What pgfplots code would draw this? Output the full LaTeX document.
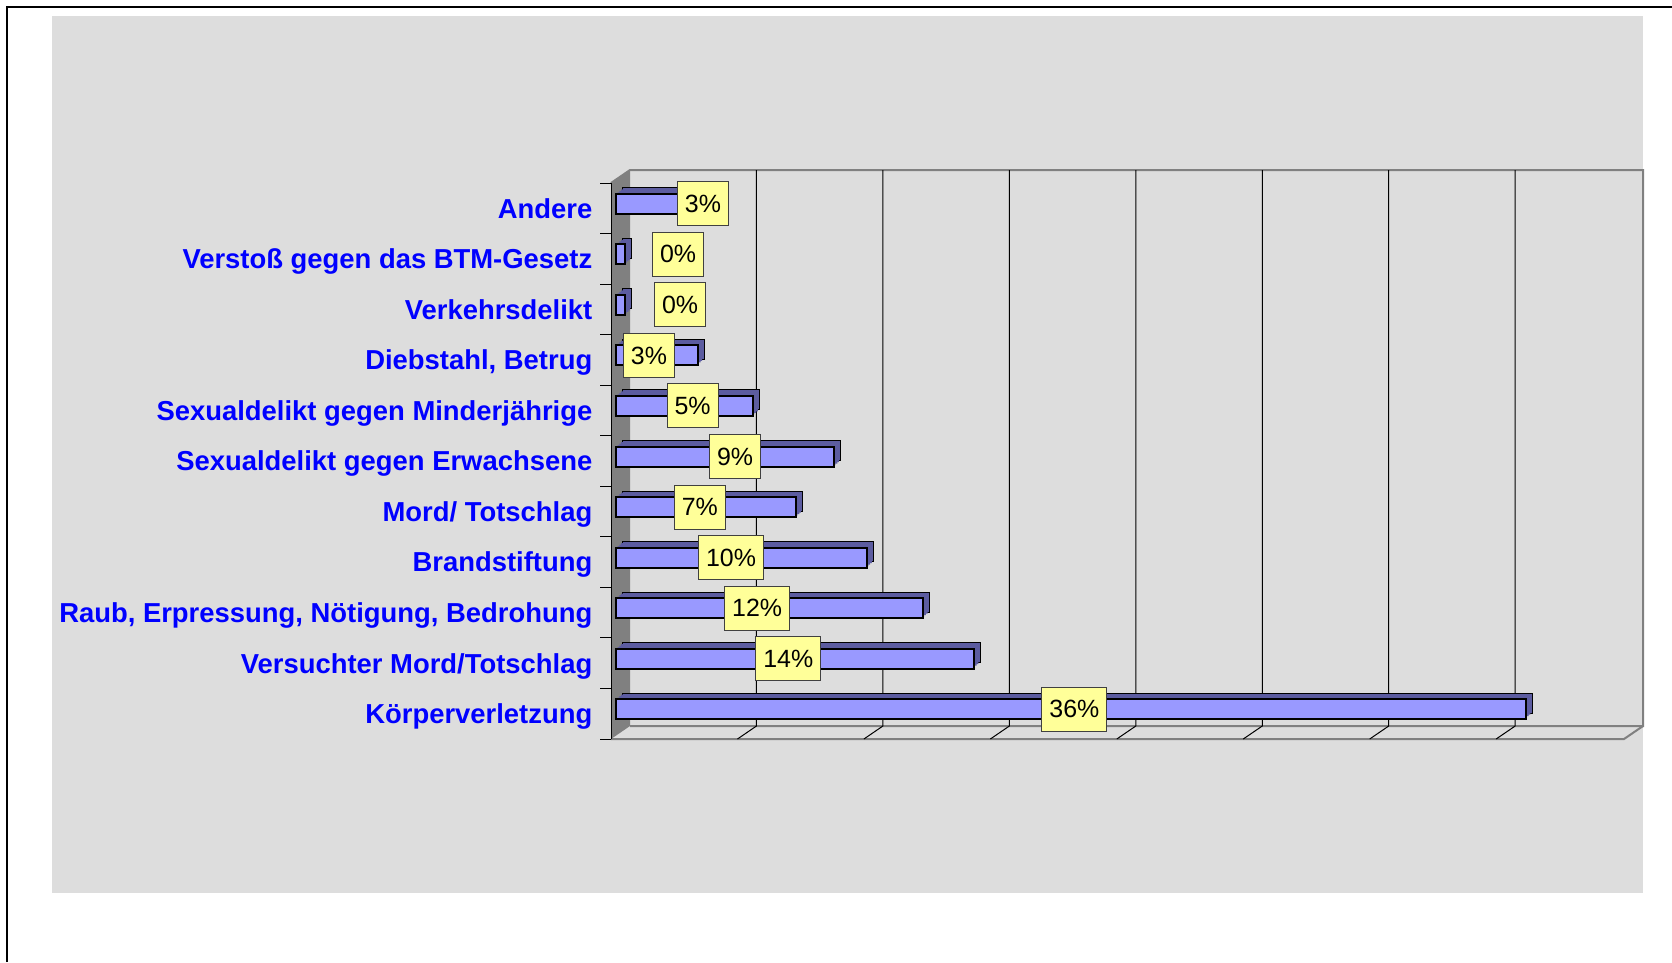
\documentclass[border=0pt]{standalone}
\usepackage{fontspec}
\setmainfont{Liberation Sans}
\usepackage{pgfplots}
\pgfplotsset{compat=1.18}
\definecolor{panel}{RGB}{221,221,221}
\definecolor{barfront}{RGB}{153,153,255}
\definecolor{bardepth}{RGB}{92,92,160}
\definecolor{wallgray}{RGB}{128,128,128}
\definecolor{labelyellow}{RGB}{255,255,153}
\definecolor{catblue}{RGB}{0,0,255}

\pgfplotstableread{
val pos
35.9 0
14.1 1
12.1 2
9.9 3
7.1 4
8.6 5
5.4 6
3.2 7
0.35 8
0.35 9
2.8 10
}\bars

\begin{document}
\begin{tikzpicture}
% frame, panel and the 3D walls (1 unit = 1 px of the reference)
\begin{scope}[x=0.1mm,y=-0.1mm]
\path[use as bounding box] (0,0) rectangle (1672,962);
\fill[panel] (52,16) rectangle (1643,893);
\draw[line width=0.2mm] (7,962) -- (7,7) -- (1672,7);
\fill[wallgray] (611,183) -- (630,170) -- (630,726) -- (611,739) -- cycle;
\draw[wallgray, line width=0.2mm] (611,183) -- (630,170) -- (1643,170) -- (1643,726) -- (630,726);
\draw[wallgray, line width=0.2mm] (611,739) -- (1624,739) -- (1643,726);
\foreach \k in {1,...,7} {
  \draw[black, line width=0.1mm] ({630+126.45*\k},170) -- ({630+126.45*\k},726) -- ({611+126.45*\k},739);
}
\draw[black, line width=0.1mm] (611,183) -- (611,739);
\foreach \j in {0,...,11} \draw[black, line width=0.1mm] (600,{183+50.545*\j}) -- (611,{183+50.545*\j});
\end{scope}

\begin{axis}[
    at={(61.1mm,-73.9mm)}, anchor=south west,
    width=101.3mm, height=55.6mm, scale only axis,
    xmin=0, xmax=40, ymin=-0.5, ymax=10.5,
    axis line style={draw=none},
    xtick=\empty,
    ytick={0,...,10},
    yticklabels={Körperverletzung, Versuchter Mord/Totschlag, {Raub, Erpressung, Nötigung, Bedrohung}, Brandstiftung, Mord/ Totschlag, Sexualdelikt gegen Erwachsene, Sexualdelikt gegen Minderjährige, {Diebstahl, Betrug}, Verkehrsdelikt, Verstoß gegen das BTM-Gesetz, Andere},
    major tick length=0pt,
    yticklabel style={font=\fontsize{7.8}{9}\selectfont\bfseries, text=catblue, anchor=base east, inner sep=0pt, xshift=-1.8mm, yshift=-2.8pt},
    bar width=2mm, bar shift=0pt,
    clip=false,
]
% depth of the bars: back copy with outline, then fills in between
\addplot[xbar, fill=bardepth, draw=black, line width=0.1mm, xshift=1.2mm, yshift=1.05mm] table[x=val, y=pos] {\bars};
\addplot[xbar, fill=bardepth, draw=none, xshift=1.02mm, yshift=0.9mm] table[x=val, y=pos] {\bars};
\addplot[xbar, fill=bardepth, draw=none, xshift=0.85mm, yshift=0.75mm] table[x=val, y=pos] {\bars};
\addplot[xbar, fill=bardepth, draw=none, xshift=0.67mm, yshift=0.6mm] table[x=val, y=pos] {\bars};
% front faces
\addplot[xbar, fill=barfront, draw=black, line width=0.2mm, xshift=0.55mm, yshift=0.45mm] table[x=val, y=pos] {\bars};
% value labels
\addplot[draw=none, mark=none, nodes near coords, point meta=explicit symbolic,
    every node near coord/.append style={anchor=center, yshift=0.45mm, fill=labelyellow,
      draw=black!75, line width=0.1mm, text=black, font=\fontsize{7.1}{8.5}\selectfont,
      inner xsep=0.75mm, inner ysep=0pt, minimum height=4.4mm}]
coordinates {
(18.3,0) [36\%] (7.0,1) [14\%] (5.77,2) [12\%] (4.74,3) [10\%] (3.51,4) [7\%]
(4.9,5) [9\%] (3.22,6) [5\%] (1.5,7) [3\%] (2.73,8) [0\%] (2.65,9) [0\%] (3.63,10) [3\%]};
\end{axis}
\end{tikzpicture}
\end{document}
